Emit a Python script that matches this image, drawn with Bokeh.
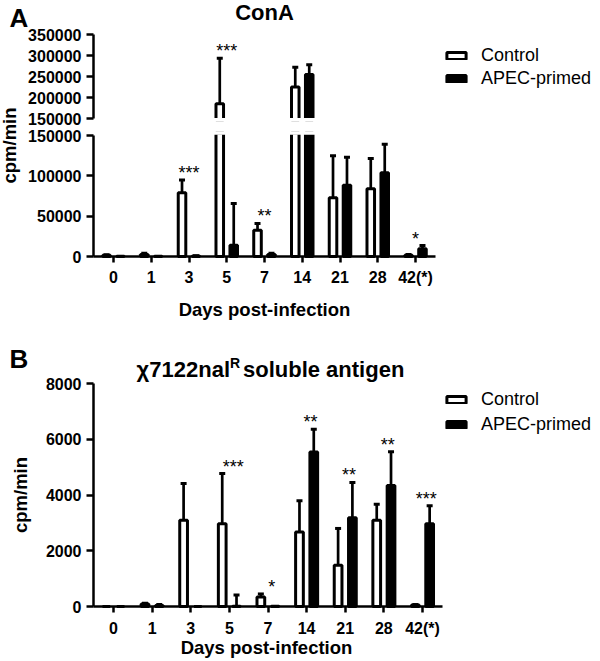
import math
from bokeh.plotting import figure
from bokeh.models import (Range1d, FixedTicker, NumeralTickFormatter, LinearAxis,
                          Label, Legend, LegendItem, ColumnDataSource)
from bokeh.layouts import column
from bokeh.embed import file_html
from bokeh.resources import INLINE
from bokeh.core.properties import value

# ---------------- data ----------------
days = ["0", "1", "3", "5", "7", "14", "21", "28", "42(*)"]

# Panel A: ConA (cpm/min)
cona_control = [1500, 2500, 79100, 185200, 32500, 225000, 72900, 84100, 1500]
cona_control_err = [800, 1500, 15800, 108000, 8500, 47000, 52100, 37500, 1000]
cona_apec = [200, 200, 600, 13900, 2500, 255000, 88300, 103900, 9500]
cona_apec_err = [0, 0, 300, 51900, 1500, 23000, 34600, 35100, 4000]
cona_stars = ["", "", "***", "***", "**", "", "", "", "*"]

# Panel B: chi7122nalR soluble antigen (cpm/min)
ag_control = [0, 90, 3090, 2970, 340, 2670, 1480, 3090, 50]
ag_control_err = [0, 30, 1320, 1800, 110, 1120, 1320, 580, 20]
ag_apec = [0, 40, 0, 10, 10, 5540, 3180, 4340, 2970]
ag_apec_err = [0, 30, 0, 400, 0, 820, 1270, 1210, 640]
ag_stars = ["", "", "", "***", "*", "**", "**", "**", "***"]

cona_upper_ticks = [150000, 200000, 250000, 300000, 350000]
cona_lower_ticks = [0, 50000, 100000, 150000]
ag_ticks = [0, 2000, 4000, 6000, 8000]
series_labels = ["Control", "APEC-primed"]

# ---------------- style / layout constants ----------------
FONT = "Liberation Sans"
OFF = 0.185          # dodge of each bar from the day position
BAR_W = 0.2
W = 600
HA, HB = 330, 331
BREAK = cona_lower_ticks[-1]
L_CAP = BREAK * 1.02     # lower segment: broken bars stop here
U_FLOOR = BREAK * 0.98   # upper segment: broken bars start here
LBL_SHIFT = 8            # baseline correction for Label text

xs = list(range(len(days)))
labels_map = {i: d for i, d in enumerate(days)}


def lin(v0, p0, v1, p1, size, vertical):
    """Range so that value v0 sits at pixel p0 and v1 at p1 (pixels from left/top)."""
    s = (v1 - v0) / (p1 - p0)
    at0 = v0 - p0 * s
    atn = v0 + (size - p0) * s
    return Range1d(atn, at0) if vertical else Range1d(at0, atn), (lambda px: v0 + (px - p0) * s)


def base(height, xr, yr):
    p = figure(width=W, height=height, x_range=xr, y_range=yr,
               output_backend="svg", toolbar_location=None,
               x_axis_location=None, y_axis_location=None,
               min_border=0, min_border_left=0, min_border_right=0,
               min_border_top=0, min_border_bottom=0)
    p.grid.visible = False
    p.outline_line_color = None
    p.background_fill_color = "white"
    p.border_fill_color = "white"
    return p


def style_axis(ax, tick_out, standoff):
    ax.axis_line_width = 2.5
    ax.axis_line_color = "black"
    ax.major_tick_line_width = 2.5
    ax.major_tick_line_color = "black"
    ax.major_tick_in = 0
    ax.major_tick_out = tick_out
    ax.minor_tick_line_color = None
    ax.major_label_standoff = standoff
    ax.major_label_text_font = FONT
    ax.major_label_text_font_style = "bold"
    ax.major_label_text_font_size = "16px"
    ax.major_label_text_color = "black"


def add_y_axis(p, ticks, x_at, range_name="default"):
    ax = LinearAxis(y_range_name=range_name, fixed_location=x_at,
                    bounds=(ticks[0], ticks[-1]), ticker=FixedTicker(ticks=ticks),
                    formatter=NumeralTickFormatter(format="0"))
    style_axis(ax, 7, 5)
    p.add_layout(ax, "left")


def add_x_axis(p, x_lo, x_hi, standoff):
    ax = LinearAxis(fixed_location=0, bounds=(x_lo, x_hi),
                    ticker=FixedTicker(ticks=xs), major_label_overrides=labels_map)
    style_axis(ax, 6, standoff)
    p.add_layout(ax, "below")


def text_label(p, x, y, text, size, align="left", baseline="alphabetic", angle=0.0, style="bold"):
    if baseline == "alphabetic":
        y = y + LBL_SHIFT
    p.add_layout(Label(x=x, y=y, x_units="screen", y_units="screen", text=text,
                       text_font=FONT, text_font_size=size, text_font_style=style,
                       text_align=align, text_baseline=baseline, angle=angle,
                       text_color="black"))


def draw_errors(p, xpos, lo, hi, caps, rn="default"):
    src = ColumnDataSource(dict(x=xpos, lo=lo, hi=hi))
    p.segment(x0="x", y0="lo", x1="x", y1="hi", source=src, line_color="black",
              line_width=2.7, y_range_name=rn)
    csrc = ColumnDataSource(dict(x=[x for x, c in zip(xpos, caps) if c],
                                 y=[h for h, c in zip(hi, caps) if c]))
    p.scatter(x="x", y="y", source=csrc, marker="dash", size=6, line_width=3,
              line_color="black", y_range_name=rn)


def draw_bars(p, xpos, bottom, top, fill, rn="default"):
    src = ColumnDataSource(dict(x=xpos, bottom=bottom, top=top))
    return p.vbar(x="x", bottom="bottom", top="top", width=BAR_W, source=src,
                  fill_color=fill, line_color="black", line_width=3, y_range_name=rn)


def erase(p, xpos, y, rn="default"):
    # opens the cut edge of a broken bar
    src = ColumnDataSource(dict(x0=[x - BAR_W / 2 - 0.06 for x in xpos],
                                x1=[x + BAR_W / 2 + 0.06 for x in xpos], y=y))
    p.segment(x0="x0", y0="y", x1="x1", y1="y", source=src, line_color="white",
              line_width=3.5, y_range_name=rn)


def draw_stars(p, xpos, ys, texts, rn="default"):
    src = ColumnDataSource(dict(x=xpos, y=ys, t=texts))
    p.text(x="x", y="y", text="t", source=src, text_font=value(FONT),
           text_font_size=value("18px"), text_align="center",
           text_baseline="alphabetic", y_offset=-7, text_color="black",
           y_range_name=rn)


def add_legend(p, rc, ra, loc, spacing):
    leg = Legend(items=[LegendItem(label=series_labels[0], renderers=[rc]),
                        LegendItem(label=series_labels[1], renderers=[ra])],
                 location=loc, orientation="vertical")
    leg.border_line_color = None
    leg.background_fill_alpha = 0
    leg.padding = 0
    leg.margin = 0
    leg.spacing = spacing
    leg.label_height = 22
    leg.glyph_width = 24
    leg.glyph_height = 9
    leg.label_standoff = 13
    leg.label_text_font = FONT
    leg.label_text_font_size = "18px"
    leg.label_text_color = "black"
    p.add_layout(leg)


# ---------------- Panel A (broken y axis) ----------------
xr_a, xa = lin(0, 113, 8, 415, W, False)
yr_lo, _ = lin(0, 256, BREAK, 135, HA, True)
yr_up, _ = lin(cona_upper_ticks[0], 118, cona_upper_ticks[-1], 34, HA, True)
a = base(HA, xr_a, yr_lo)
a.extra_y_ranges = {"upper": yr_up}
ax_x = xa(93)
add_y_axis(a, cona_lower_ticks, ax_x)
add_y_axis(a, cona_upper_ticks, ax_x, "upper")
add_x_axis(a, ax_x, xa(435), 6)

rendered = {}
for name, vals, errs, off, fill in (("c", cona_control, cona_control_err, -OFF, "white"),
                                    ("a", cona_apec, cona_apec_err, OFF, "black")):
    xp = [x + off for x in xs]
    # lower segment
    lo_e = [(x, v, min(v + e, L_CAP), v + e <= L_CAP) for x, v, e in zip(xp, vals, errs)
            if e > 0 and v < L_CAP]
    draw_errors(a, [t[0] for t in lo_e], [t[1] for t in lo_e], [t[2] for t in lo_e],
                [t[3] for t in lo_e])
    rendered[name] = draw_bars(a, xp, [0] * len(vals), [min(v, L_CAP) for v in vals], fill)
    cut = [x for x, v in zip(xp, vals) if v > L_CAP]
    erase(a, cut, [L_CAP] * len(cut))
    # upper segment
    up_e = [(x, max(v, U_FLOOR), v + e) for x, v, e in zip(xp, vals, errs)
            if e > 0 and v + e > BREAK]
    draw_errors(a, [t[0] for t in up_e], [t[1] for t in up_e], [t[2] for t in up_e],
                [True] * len(up_e), "upper")
    big = [(x, v) for x, v in zip(xp, vals) if v > BREAK]
    draw_bars(a, [t[0] for t in big], [U_FLOOR] * len(big), [t[1] for t in big], fill, "upper")
    erase(a, [t[0] for t in big], [U_FLOOR] * len(big), "upper")

star_y_a = [max(c + ce, v + ve) for c, ce, v, ve in
            zip(cona_control, cona_control_err, cona_apec, cona_apec_err)]
low = [(x, y, s) for x, y, s in zip(xs, star_y_a, cona_stars) if s and y <= BREAK]
high = [(x, y, s) for x, y, s in zip(xs, star_y_a, cona_stars) if s and y > BREAK]
draw_stars(a, [t[0] for t in low], [t[1] for t in low], [t[2] for t in low])
draw_stars(a, [t[0] for t in high], [t[1] for t in high], [t[2] for t in high], "upper")

add_legend(a, rendered["c"], rendered["a"], (444, 241), 1)
text_label(a, 9, HA - 25, "A", "26px")
text_label(a, 264, HA - 20, "ConA", "22px", align="center")
text_label(a, 9, HA - 145, "cpm/min", "18.5px", align="center", baseline="middle",
           angle=math.pi / 2)
text_label(a, 264, HA - 316.7, "Days post-infection", "18.5px", align="center")

# ---------------- Panel B ----------------
xr_b, xb = lin(0, 113, 8, 422, W, False)
yr_b, _ = lin(ag_ticks[0], 606 - HA, ag_ticks[-1], 383 - HA, HB, True)
b = base(HB, xr_b, yr_b)
bx = xb(93)
add_y_axis(b, ag_ticks, bx)
add_x_axis(b, bx, xb(442), 7)
rb = {}
for name, vals, errs, off, fill in (("c", ag_control, ag_control_err, -OFF, "white"),
                                    ("a", ag_apec, ag_apec_err, OFF, "black")):
    xp = [x + off for x in xs]
    e_ok = [(x, v, v + e) for x, v, e in zip(xp, vals, errs) if e > 0]
    draw_errors(b, [t[0] for t in e_ok], [t[1] for t in e_ok], [t[2] for t in e_ok],
                [True] * len(e_ok))
    rb[name] = draw_bars(b, xp, [0] * len(vals), vals, fill)

star_y_b = [max(c + ce, v + ve) for c, ce, v, ve in
            zip(ag_control, ag_control_err, ag_apec, ag_apec_err)]
sb = [(x + 0.1, y, s) for x, y, s in zip(xs, star_y_b, ag_stars) if s]
draw_stars(b, [t[0] for t in sb], [t[1] for t in sb], [t[2] for t in sb])

add_legend(b, rb["c"], rb["a"], (444, 226), 3)
text_label(b, 9, HB - (366.7 - HA), "B", "26px")
text_label(b, 229.5, HB - (376.7 - HA), "\u03c77122nal", "22px", align="right")
text_label(b, 229.5, HB - (370 - HA), "R", "14px")
text_label(b, 242.5, HB - (376.7 - HA), "soluble antigen", "22px")
text_label(b, 20, HB - (494.5 - HA), "cpm/min", "18.5px", align="center",
           baseline="middle", angle=math.pi / 2)
text_label(b, 266, HB - (655 - HA), "Days post-infection", "18.5px", align="center")

layout = column(a, b, spacing=0)

with open("out.html", "w") as f:
    f.write(file_html(layout, INLINE))
